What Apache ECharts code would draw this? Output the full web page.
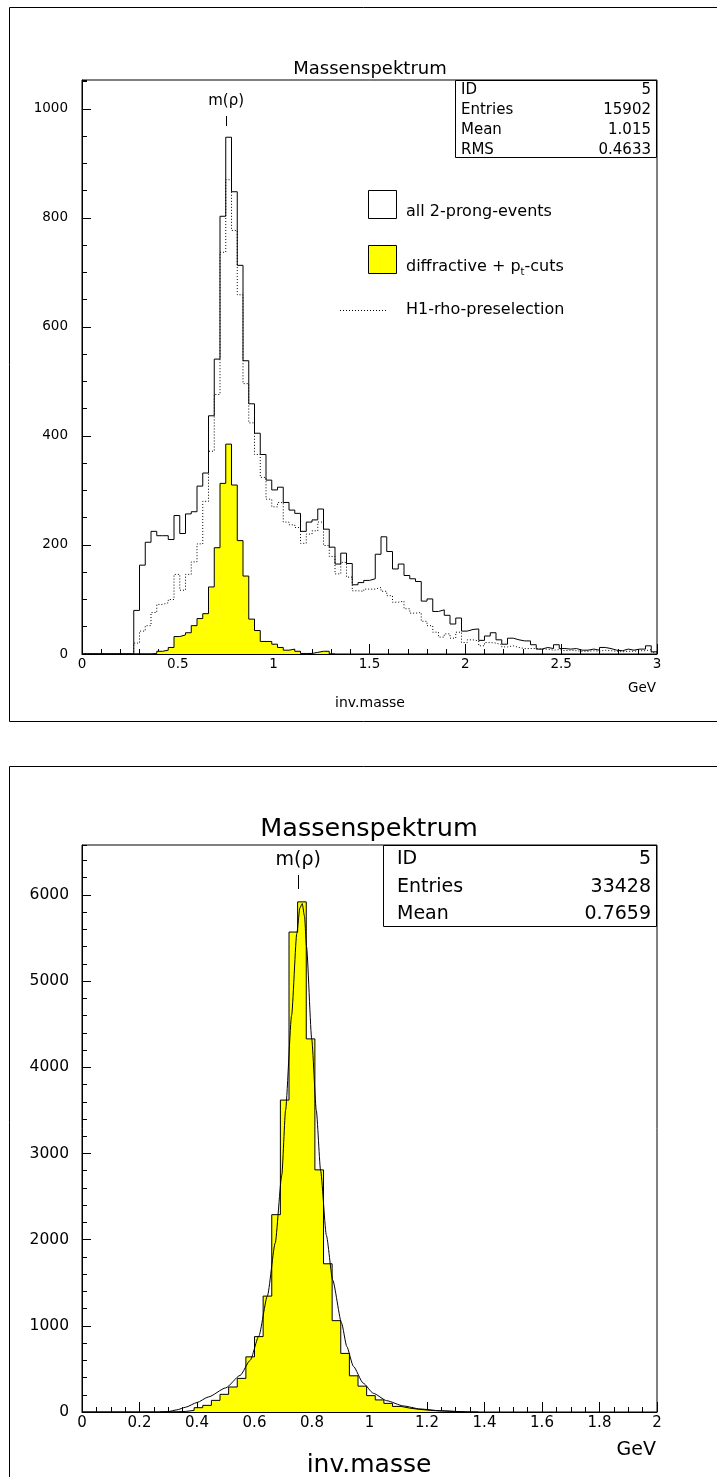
<!DOCTYPE html>
<html>
<head>
<meta charset="utf-8">
<title>Massenspektrum</title>
<script src="https://cdn.jsdelivr.net/npm/echarts@6.0.0/dist/echarts.min.js"></script>
<style>
  html, body { margin: 0; padding: 0; background: #fff; }
  #chart { width: 717px; height: 1477px; }
</style>
</head>
<body>
<div id="chart"></div>
<script>
// bin width of both histograms (GeV)
const binWidth = 0.03

// upper plot: 100 bins from 0 to 3 GeV
const allEvents = [
  0, 0, 0, 0, 0, 0, 0, 0, 0,
  80, 163, 205, 225, 217, 217, 210, 254, 221, 257, 261,
  308, 332, 437, 541, 803, 948, 848, 713, 538, 459,
  405, 366, 319, 301, 306, 278, 264, 258, 225, 242,
  246, 266, 229, 196, 165, 185, 166, 127, 131, 135,
  138, 183, 215, 188, 156, 165, 144, 138, 133, 97,
  101, 78, 81, 71, 55, 66, 42, 45, 46, 25,
  33, 39, 26, 18, 29, 26, 24, 24, 17, 9,
  12, 10, 17, 10, 9, 10, 7, 7, 9, 7,
  12, 10, 7, 6, 9, 7, 9, 9, 15, 4
]
const preselection = [
  0, 0, 0, 0, 0, 0, 0, 0, 0,
  20, 42, 52, 76, 91, 94, 100, 146, 117, 146, 169,
  202, 280, 372, 476, 737, 870, 777, 659, 496, 424,
  366, 324, 284, 270, 278, 242, 237, 232, 203, 220,
  226, 242, 199, 179, 147, 168, 141, 116, 115, 119,
  119, 122, 115, 107, 95, 97, 83, 75, 76, 60,
  52, 40, 31, 37, 29, 40, 21, 26, 24, 15,
  21, 20, 17, 13, 15, 12, 10, 10, 10, 9,
  9, 7, 8, 6, 7, 6, 5, 5, 6, 5,
  7, 6, 5, 4, 5, 5, 6, 6, 8, 3
]
const diffractive = [
  0, 0, 0, 0, 0, 0, 0, 0, 0, 0, 0, 0,
  1, 5, 7, 12, 32, 35, 39, 52,
  65, 74, 123, 195, 313, 385, 310, 208, 143, 64,
  43, 23, 23, 18, 12, 7, 9, 5, 1, 1,
  3, 5, 5, 0
]

// lower plot: selected events, 0 to 2 GeV
const selected = [
  0, 0, 0, 0, 0, 0, 0, 0, 0, 0,
  2, 6, 19, 50, 77, 135, 205, 290, 390, 640,
  875, 1345, 2290, 3620, 5570, 5920, 4330, 2810, 1720, 1060,
  680, 420, 300, 190, 140, 100, 65, 45, 32, 23,
  15, 11, 7, 4, 2, 0
]
// fitted curve
const fitMass = [0.27, 0.30, 0.33, 0.36, 0.40, 0.44, 0.50, 0.55, 0.585, 0.615, 0.645, 0.672,
  0.695, 0.708, 0.729, 0.747, 0.758, 0.766, 0.774, 0.781, 0.799, 0.815, 0.830, 0.850,
  0.872, 0.903, 0.921, 0.944, 0.978, 1.013, 1.060, 1.118, 1.176, 1.245, 1.33]
const fitCount = [0, 5, 25, 55, 110, 175, 280, 425, 600, 880, 1350, 1960,
  2750, 3500, 4600, 5550, 5850, 5900, 5750, 5400, 4330, 3500, 2800, 2050,
  1530, 1030, 760, 530, 335, 218, 131, 70, 35, 15, 0]

const rhoMass = 0.752

const FONT = '"DejaVu Sans", sans-serif'

// turn bin contents into points for a step line
function histPoints (vals) {
  const pts = vals.map((v, i) => [+(i * binWidth).toFixed(3), v])
  pts.push([+(vals.length * binWidth).toFixed(3), vals[vals.length - 1]])
  return pts
}

function xAxisCfg (grid, max, interval, split, fontSize, margin) {
  return {
    type: 'value', gridIndex: grid, position: 'bottom', min: 0, max: max, interval: interval,
    axisLine: { show: true, lineStyle: { color: '#000', width: 1 } },
    axisTick: { show: true, inside: true, length: 10, lineStyle: { color: '#000' } },
    minorTick: { show: true, splitNumber: split, length: 5, lineStyle: { color: '#000' } },
    axisLabel: { color: '#000', fontSize: fontSize, fontFamily: FONT, margin: margin },
    splitLine: { show: false }
  }
}

function yAxisCfg (grid, max, interval, tickLen, labels, fontSize, margin) {
  return {
    type: 'value', gridIndex: grid, position: 'left', min: 0, max: max, interval: interval,
    axisLine: { show: labels, lineStyle: { color: '#000', width: 1 } },
    axisTick: { show: true, inside: true, length: tickLen, lineStyle: { color: '#000' } },
    axisLabel: {
      show: labels, showMaxLabel: false, color: '#000', fontSize: fontSize, fontFamily: FONT, margin: margin,
      formatter: v => String(v)
    },
    splitLine: { show: false }
  }
}

const chart = echarts.init(document.getElementById('chart'), null, { renderer: 'canvas' })

chart.setOption({
  animation: false,
  backgroundColor: '#fff',
  grid: [
    { left: 82, top: 80, width: 575, height: 574, show: true, borderColor: '#000', borderWidth: 1, backgroundColor: '#fff' },
    { left: 82, top: 845, width: 575, height: 567, show: true, borderColor: '#000', borderWidth: 1, backgroundColor: '#fff' }
  ],
  xAxis: [
    xAxisCfg(0, 3, 0.5, 5, 13.5, 3),
    xAxisCfg(1, 2, 0.2, 4, 15, 4)
  ],
  yAxis: [
    yAxisCfg(0, 1053, 200, 9, true, 13.5, 14),
    yAxisCfg(0, 1053, 50, 5, false),
    yAxisCfg(1, 6580, 1000, 9, true, 15.5, 13),
    yAxisCfg(1, 6580, 200, 5, false)
  ],
  series: [
    {
      name: 'diffractive + pt-cuts', type: 'line', step: 'end', xAxisIndex: 0, yAxisIndex: 0,
      data: histPoints(diffractive), symbol: 'none', z: 2,
      lineStyle: { color: '#000', width: 1 },
      areaStyle: { color: '#ffff00', opacity: 1 }
    },
    {
      name: 'H1-rho-preselection', type: 'line', step: 'end', xAxisIndex: 0, yAxisIndex: 0,
      data: histPoints(preselection), symbol: 'none', z: 3,
      lineStyle: { color: '#000', width: 1, type: [1, 2] }
    },
    {
      name: 'all 2-prong-events', type: 'line', step: 'end', xAxisIndex: 0, yAxisIndex: 0,
      data: histPoints(allEvents), symbol: 'none', z: 4,
      lineStyle: { color: '#000', width: 1 }
    },
    {
      name: 'selected', type: 'line', step: 'end', xAxisIndex: 1, yAxisIndex: 2,
      data: histPoints(selected), symbol: 'none', z: 2,
      lineStyle: { color: '#000', width: 1 },
      areaStyle: { color: '#ffff00', opacity: 1 }
    },
    {
      name: 'fit', type: 'line', xAxisIndex: 1, yAxisIndex: 2,
      data: fitMass.map((m, i) => [m, fitCount[i]]), symbol: 'none', z: 3,
      smooth: 0.2, smoothMonotone: 'x',
      lineStyle: { color: '#000', width: 1 }
    }
  ]
})

function txt (x, y, s, size, align, extra) {
  const style = {
    text: s, fontSize: size, fontFamily: FONT, fill: '#000',
    align: align || 'left', verticalAlign: 'middle',
    textAlign: align || 'left', textVerticalAlign: 'middle'
  }
  Object.assign(style, extra || {})
  return { type: 'text', x: x, y: y, silent: true, z: 100, style: style }
}
function box (x, y, w, h, fill) {
  return { type: 'rect', silent: true, z: 99, shape: { x: x, y: y, width: w, height: h }, style: { fill: fill || 'none', stroke: '#000', lineWidth: 1 } }
}
function line (x1, y1, x2, y2, dash) {
  return { type: 'line', silent: true, z: 100, shape: { x1: x1, y1: y1, x2: x2, y2: y2 }, style: { stroke: '#000', lineWidth: 1, lineDash: dash || null } }
}

const rhoTop = chart.convertToPixel({ xAxisIndex: 0 }, rhoMass)
const rhoBottom = chart.convertToPixel({ xAxisIndex: 1 }, rhoMass)

chart.setOption({
  graphic: [
    // panel frames
    box(9.5, 7.5, 720, 714),
    box(9.5, 766.5, 720, 720),

    // upper panel
    txt(370, 69, 'Massenspektrum', 18, 'center'),
    { type: 'rect', silent: true, z: 98, shape: { x: 455.5, y: 80.5, width: 201, height: 77 }, style: { fill: '#fff', stroke: '#000', lineWidth: 1 } },
    txt(461, 90, 'ID', 15), txt(651, 90, '5', 15, 'right'),
    txt(461, 110, 'Entries', 15), txt(651, 110, '15902', 15, 'right'),
    txt(461, 130, 'Mean', 15), txt(651, 130, '1.015', 15, 'right'),
    txt(461, 150, 'RMS', 15), txt(651, 150, '0.4633', 15, 'right'),
    txt(rhoTop, 101, 'm(ρ)', 15, 'center'),
    line(Math.round(rhoTop) + 0.5, 116, Math.round(rhoTop) + 0.5, 126),

    box(368.5, 190.5, 28, 28, '#fff'),
    txt(406, 212, 'all 2-prong-events', 16),
    box(368.5, 245.5, 28, 28, '#ffff00'),
    txt(406, 267, 'diffractive + p{s|t}-cuts', 16, 'left', {
      lineHeight: 20,
      rich: { s: { fontSize: 10, fontFamily: FONT, lineHeight: 10, verticalAlign: 'bottom' } }
    }),
    line(340, 310.5, 388, 310.5, [1, 2]),
    txt(406, 310, 'H1-rho-preselection', 16),

    txt(656, 688, 'GeV', 13.5, 'right'),
    txt(370, 703, 'inv.masse', 14, 'center'),

    // lower panel
    txt(369, 829, 'Massenspektrum', 25.5, 'center'),
    { type: 'rect', silent: true, z: 98, shape: { x: 383.5, y: 845.5, width: 273, height: 81 }, style: { fill: '#fff', stroke: '#000', lineWidth: 1 } },
    txt(397, 859, 'ID', 19), txt(651, 859, '5', 19, 'right'),
    txt(397, 887, 'Entries', 19), txt(651, 887, '33428', 19, 'right'),
    txt(397, 914, 'Mean', 19), txt(651, 914, '0.7659', 19, 'right'),
    txt(rhoBottom, 860, 'm(ρ)', 19, 'center'),
    line(Math.round(rhoBottom) + 0.5, 875, Math.round(rhoBottom) + 0.5, 889),

    txt(656, 1450, 'GeV', 19, 'right'),
    txt(369, 1465, 'inv.masse', 25, 'center')
  ]
})
</script>
</body>
</html>
